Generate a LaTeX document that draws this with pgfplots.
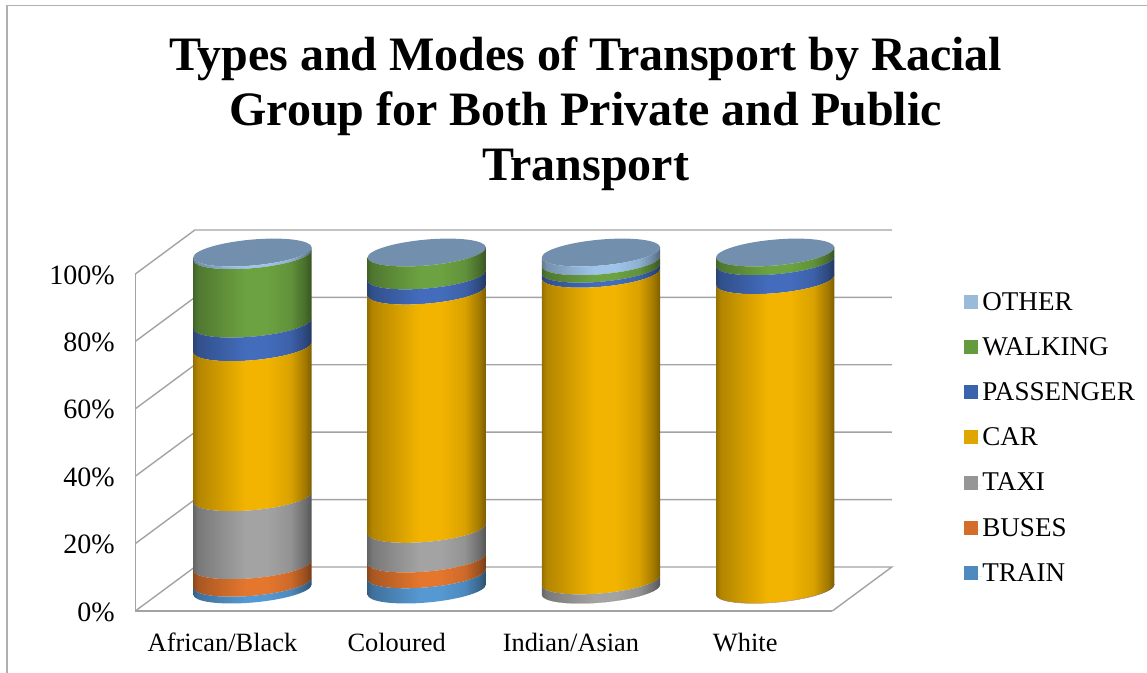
\documentclass[border=0pt]{standalone}
\usepackage{pgfplots}
\pgfplotsset{compat=1.18}
\usepackage{pgfplotstable}
\usepackage{fontspec}
\setmainfont{Liberation Serif}

% Stacked shares per group; each row sums to 100.
\pgfplotstableread{
x train buses taxi car passenger walking other
0 2.0   5.2   20.2 44.5 7.0       20.3    0.8
1 4.5   4.7   8.8  70.7 4.5       6.8     0.0
2 0.0   0.0   2.7  91.0 1.5       2.2     2.6
3 0.0   0.1   0.0  91.7 5.6       2.6     0.0
}\shares

\definecolor{wallgray}{HTML}{A3A3A3}
\definecolor{framegray}{HTML}{B0B0B0}
\definecolor{capcol}{HTML}{7290AE}
\definecolor{legTrain}{HTML}{4E8ABD}
\definecolor{legBuses}{HTML}{D26D2A}
\definecolor{legTaxi}{HTML}{969696}
\definecolor{legCar}{HTML}{E0A600}
\definecolor{legPassenger}{HTML}{3B63AC}
\definecolor{legWalking}{HTML}{659B3F}
\definecolor{legOther}{HTML}{9ABADA}

% Cylinder-like horizontal shading: dark edges, bright middle.
\newcommand\defshade[2]{%
  \definecolor{base#1}{HTML}{#2}%
  \pgfdeclarehorizontalshading{s#1}{100bp}{%
    color(0bp)=(base#1!62!black);
    color(25bp)=(base#1!62!black);
    color(27bp)=(base#1!74!black);
    color(36bp)=(base#1!86!black);
    color(47bp)=(base#1);
    color(56bp)=(base#1);
    color(66bp)=(base#1!90!black);
    color(72bp)=(base#1!68!black);
    color(75bp)=(base#1!52!black);
    color(100bp)=(base#1!52!black)}%
}
\defshade{Train}{5698D2}
\defshade{Buses}{E4762E}
\defshade{Taxi}{A3A3A3}
\defshade{Car}{F2B400}
\defshade{Passenger}{436CBC}
\defshade{Walking}{6CA241}
\defshade{Other}{9EC4EA}

% One cylinder slice: origin on the top face's centre, height from \segval.
\newcommand\defseg[1]{%
  \pgfdeclareplotmark{seg#1}{%
    \pgfmathsetmacro\segh{\segval*2.5275}%
    \pgftransformcm{1}{0.085}{0}{1}{\pgfpoint{22.5pt}{16.1pt}}%
    \path[shade,shading=s#1,draw=none]
      (-44.4pt,0pt) arc[start angle=180,end angle=360,x radius=44.4pt,y radius=9.75pt]
      -- (44.4pt,-\segh pt) arc[start angle=360,end angle=180,x radius=44.4pt,y radius=9.75pt]
      -- cycle;
  }%
}
\defseg{Train}\defseg{Buses}\defseg{Taxi}\defseg{Car}\defseg{Passenger}\defseg{Walking}\defseg{Other}
\pgfdeclareplotmark{capface}{%
  \pgftransformcm{1}{0.085}{0}{1}{\pgfpoint{22.5pt}{16.1pt}}%
  \path[fill=capcol,draw=none]
    (-44.4pt,0pt) arc[start angle=180,end angle=360,x radius=44.4pt,y radius=9.75pt]
    arc[start angle=0,end angle=180,x radius=44.4pt,y radius=9.75pt] -- cycle;
}

\pgfplotsset{
  segment/.style 2 args={
    forget plot,scatter,only marks,mark=seg#1,
    visualization depends on={\thisrow{#2} \as \segval},
  },
  wallline/.style={forget plot,stack plots=false,no markers,wallgray,line width=1.05pt,line join=miter},
}

\begin{document}
\begin{tikzpicture}
\path[use as bounding box] (0,0) rectangle (860.25pt,504pt);
% Outer frame: left and top edges only.
\draw[color=framegray,line width=1.5pt] (5.25pt,-1pt) -- (5.25pt,500pt);
\draw[color=framegray,line width=0.9pt] (4.5pt,500pt) -- (861pt,500pt);
\begin{axis}[
  at={(101.5pt,45.75pt)},anchor=south west,
  scale only axis,width=522.75pt,height=252.75pt,
  xmin=-0.5,xmax=3.5,ymin=0,ymax=100,
  clip=false,
  stack plots=y,
  axis x line*=bottom,axis y line*=left,
  axis line style={-,wallgray,line width=1.05pt},
  major tick length=0pt,
  xtick={0,1,2,3},
  xticklabels={African/Black,Coloured,Indian/Asian,White},
  ytick={0,20,40,60,80,100},
  yticklabels={0\%,20\%,40\%,60\%,80\%,100\%},
  x tick label style={yshift=-13.25pt,font=\fontsize{19.8pt}{22pt}\selectfont},
  y tick label style={xshift=-12pt,yshift=-0.75pt,font=\fontsize{21pt}{22pt}\selectfont},
  title={Types and Modes of Transport by Racial\\Group for Both Private and Public\\Transport},
  title style={at={(rel axis cs:0.646,1)},anchor=south,yshift=53pt,align=center,
    font=\fontsize{36pt}{41.3pt}\selectfont\bfseries},
  legend style={at={(rel axis cs:1.1885,0.948)},anchor=north west,draw=none,fill=none,
    font=\fontsize{20.3pt}{22pt}\selectfont,
    row sep=13.9pt,inner sep=0pt,outer sep=0pt,
    nodes={inner sep=0pt,text height=14pt,text depth=6pt,anchor=west}},
  legend cell align=left,
  legend image code/.code={\path[#1,draw=none] (0pt,-3pt) rectangle (10.5pt,7.5pt);\path[draw=none] (0pt,0pt) -- (14pt,0pt);},
]
% Side walls and back wall of the plot box, one run per gridline.
\addplot[wallline] coordinates {(-0.5,100) (-0.1585,113.06) (3.8415,113.06)};
\addplot[wallline] coordinates {(-0.5,80) (-0.1585,93.06) (3.8415,93.06)};
\addplot[wallline] coordinates {(-0.5,60) (-0.1585,73.06) (3.8415,73.06)};
\addplot[wallline] coordinates {(-0.5,40) (-0.1585,53.06) (3.8415,53.06)};
\addplot[wallline] coordinates {(-0.5,20) (-0.1585,33.06) (3.8415,33.06)};
\addplot[wallline] coordinates {(-0.5,0) (-0.1585,13.06) (3.8415,13.06) (3.5,0)};
% Stacked slices, bottom to top.
\addplot[segment={Train}{train}] table[x=x,y=train] {\shares};
\addplot[segment={Buses}{buses}] table[x=x,y=buses] {\shares};
\addplot[segment={Taxi}{taxi}] table[x=x,y=taxi] {\shares};
\addplot[segment={Car}{car}] table[x=x,y=car] {\shares};
\addplot[segment={Passenger}{passenger}] table[x=x,y=passenger] {\shares};
\addplot[segment={Walking}{walking}] table[x=x,y=walking] {\shares};
\addplot[segment={Other}{other}] table[x=x,y=other] {\shares};
% Top faces at the full 100 per cent.
\addplot[forget plot,stack plots=false,only marks,mark=capface] coordinates {(0,100) (1,100) (2,100) (3,100)};
\addlegendimage{fill=legOther}\addlegendentry{OTHER}
\addlegendimage{fill=legWalking}\addlegendentry{WALKING}
\addlegendimage{fill=legPassenger}\addlegendentry{PASSENGER}
\addlegendimage{fill=legCar}\addlegendentry{CAR}
\addlegendimage{fill=legTaxi}\addlegendentry{TAXI}
\addlegendimage{fill=legBuses}\addlegendentry{BUSES}
\addlegendimage{fill=legTrain}\addlegendentry{TRAIN}
\end{axis}
\end{tikzpicture}
\end{document}
